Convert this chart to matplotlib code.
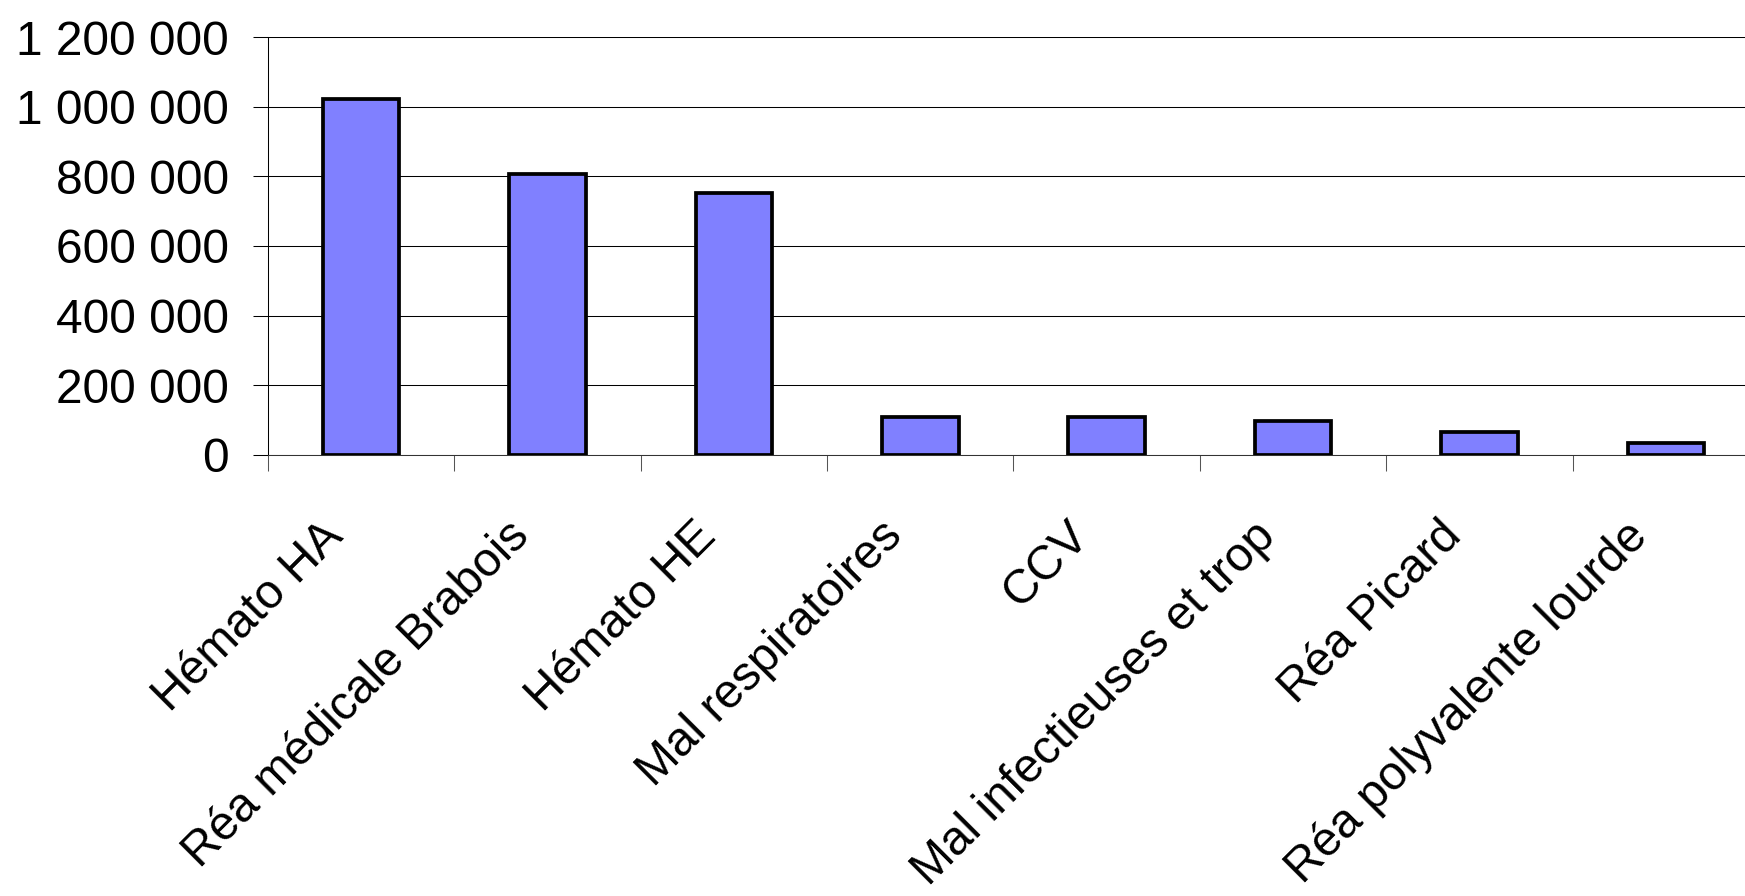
import matplotlib
matplotlib.use("Agg")
import matplotlib.pyplot as plt
import matplotlib.transforms as mtransforms
from matplotlib.ticker import FixedLocator, FuncFormatter

plt.rcParams['font.family'] = ['Liberation Sans', 'DejaVu Sans']

# donnees
services = ["Hémato HA", "Réa médicale Brabois", "Hémato HE", "Mal respiratoires",
            "CCV", "Mal infectieuses et trop", "Réa Picard", "Réa polyvalente lourde"]
montants = [1022000, 808000, 753000, 109000, 109000, 98000, 66000, 33000]
graduations = [0, 200000, 400000, 600000, 800000, 1000000, 1200000]

fig = plt.figure(figsize=(17.45, 8.96), dpi=100)
ax = fig.add_axes([0.1536, 0.4922, 0.8544, 0.4665])

positions = list(range(len(services)))
ax.bar(positions, montants, width=0.41, color='#8080ff', edgecolor='black',
       linewidth=2.7, zorder=3)

ax.set_xlim(-0.5, len(services) - 0.5)
ax.set_ylim(0, graduations[-1])

# grille horizontale
ax.set_yticks(graduations)
ax.yaxis.set_major_formatter(FuncFormatter(lambda v, p: f"{int(v):,}".replace(",", " ")))
ax.grid(axis='y', color='black', linewidth=0.75, zorder=0)
ax.set_axisbelow(True)
ax.tick_params(axis='y', direction='out', length=11, width=0.75, pad=17,
               labelsize=34.5, color='black')

# traits entre les categories
ax.xaxis.set_major_locator(FixedLocator([p - 0.5 for p in positions] + [len(services) - 0.5]))
ax.tick_params(axis='x', direction='out', length=11.5, width=0.75, color='#555555',
               labelbottom=False)

for s in ['top', 'right']:
    ax.spines[s].set_visible(False)
ax.spines['left'].set_linewidth(0.75)
ax.spines['bottom'].set_linewidth(0.75)
ax.spines['bottom'].set_color('#333333')

# etiquettes inclinees
decal = mtransforms.ScaledTranslation(-16 / 100, -83 / 100, fig.dpi_scale_trans)
for p, nom in zip(positions, services):
    ax.text(p, 0, nom, transform=ax.get_xaxis_transform() + decal,
            rotation=45, rotation_mode='anchor', ha='right', va='baseline',
            fontsize=34.5)

fig.savefig("out.png", dpi=100)
